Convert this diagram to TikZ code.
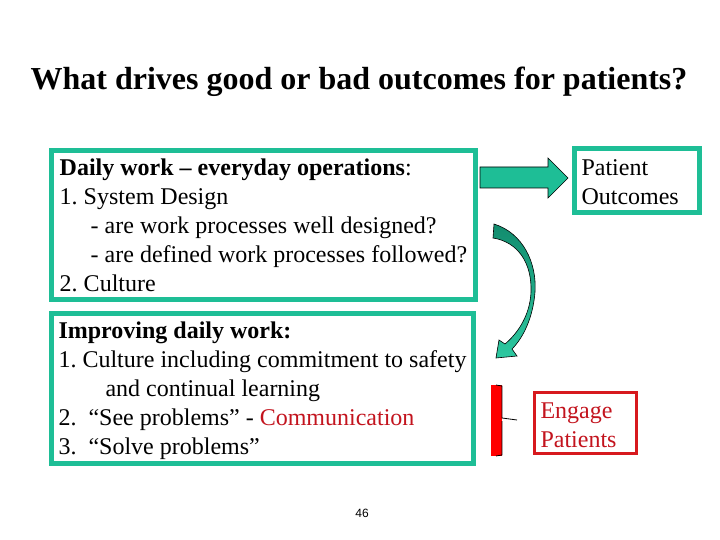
\documentclass[tikz,border=0pt]{standalone}
\usepackage{fontspec}
\setmainfont{Liberation Serif}
\newfontfamily\pagenumfont{Liberation Sans}
\usetikzlibrary{positioning}
\frenchspacing
\definecolor{boxTeal}{RGB}{30,190,150}
\definecolor{arcDark}{RGB}{18,140,110}
\definecolor{arcLight}{RGB}{45,200,160}
\definecolor{engageRed}{RGB}{215,25,30}
\definecolor{engageText}{RGB}{195,20,30}

\begin{document}
\begin{tikzpicture}[x=1pt,y=-1pt,
    workBox/.style={draw=boxTeal, line width=5pt, fill=white, anchor=north west,
        inner xsep=6pt, inner ysep=0pt, align=left,
        font=\fontsize{24}{29}\selectfont},
    outcomeBox/.style={draw=boxTeal, line width=5pt, anchor=north west,
        inner xsep=7pt, inner ysep=0pt, align=left, text width=111pt, text height=20pt,
        minimum width=125pt, minimum height=64pt, font=\fontsize{24}{29}\selectfont},
    engageBox/.style={draw=engageRed, line width=3pt, anchor=north west, text=engageText,
        inner xsep=6pt, inner ysep=0pt, align=left, text width=90pt, text height=20pt,
        minimum width=102pt, minimum height=61pt, font=\fontsize{24}{29}\selectfont},
    blockArrow/.style={draw=black, line width=0.6pt, fill=boxTeal}]
    \useasboundingbox (0,0) rectangle (720,540);

    \node[anchor=base, font=\bfseries\fontsize{32}{38}\selectfont] (Title) at (359,90)
        {What drives good or bad outcomes for patients?};

    \node[workBox, minimum width=424pt, minimum height=149pt] (DailyWork) at (49,148)
        {\textbf{Daily work -- everyday operations}:\\
         1. System Design\\
         \hspace*{31pt}- are work processes well designed?\\
         \hspace*{31pt}- are defined work processes followed?\\
         2. Culture};

    \node[workBox, minimum width=422pt, minimum height=150pt, text depth=0pt] (ImprovingWork) at (49,311)
        {\textbf{Improving daily work:}\\
         1. Culture including commitment to safety\\
         \hspace*{47pt}and continual learning\\
         2.\ \ “See problems” - \textcolor{engageText}{Communication}\\
         3.\ \ “Solve problems”};

    \node[outcomeBox] (PatientOutcomes) at (572,146) {Patient\\Outcomes};
    \node[engageBox] (EngagePatients) at (533,391) {Engage\\Patients};

    \draw[blockArrow] (480,167) -- (548,167) -- (548,158) -- (568,178)
        -- (548,198) -- (548,188) -- (480,188) -- cycle;

    \shadedraw[top color=arcDark, bottom color=arcLight, draw=black, line width=0.6pt]
        (494,224) .. controls (523,233) and (537,263) .. (535,292)
        .. controls (533,318) and (523,338) .. (512,349)
        -- (517,356) -- (496,358) -- (499,340) -- (505,344)
        .. controls (517,334) and (530,316) .. (531,292)
        .. controls (532,263) and (518,242) .. (493,238) -- cycle;

    \fill[red] (491,385) rectangle (502,456);
    \draw[black, line width=0.8pt] (496,385) -- (502,386) -- (502,418) -- (517,420)
        (502,421) -- (502,455) -- (496,456);

    \node[font=\pagenumfont\fontsize{12}{14}\selectfont] (PageNum) at (362,513) {46};
\end{tikzpicture}
\end{document}
